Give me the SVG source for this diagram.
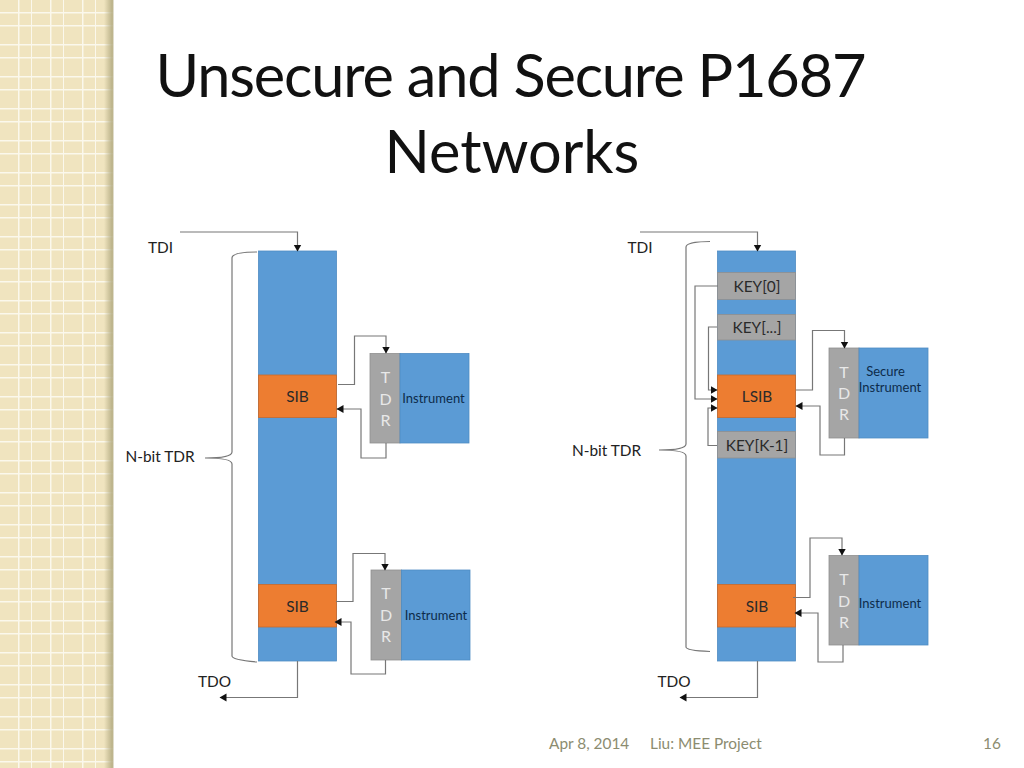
<svg xmlns="http://www.w3.org/2000/svg" width="1024" height="768" viewBox="0 0 1024 768">
<style>
text{font-family:Lato,"Liberation Sans",sans-serif}
.t{font-size:59.500px;fill:#111;text-anchor:middle}
.l{font-size:15.400px;fill:#222}
.c{font-size:15.400px;fill:#2a2a2a;text-anchor:middle}
.w{font-size:16px;fill:#e8e8e8;text-anchor:middle}
.i{font-size:13px;fill:#0d2b4a;text-anchor:middle}
.f{font-size:15.400px;fill:#8c8c70}
.b{fill:#5b9bd5;stroke:#4f8cc3;stroke-width:.8}
.o{fill:#ed7d31;stroke:#c96a2c;stroke-width:.8}
.g{fill:#a5a5a5;stroke:#8f8f8f;stroke-width:.8}
.k{fill:none;stroke:#777;stroke-width:1.2}
.a{marker-end:url(#ah)}
</style>
<defs>
<marker id="ah" markerUnits="userSpaceOnUse" markerWidth="8" markerHeight="9" refX="6.500" refY="4.500" orient="auto"><path d="M0 0.500L7 4.500L0 8.500Z" fill="#111"/></marker>
<pattern id="grid" width="32" height="32" patternUnits="userSpaceOnUse" x="0" y="0">
<rect width="32" height="32" fill="#f0e4bf"/>
<rect x="18" width="1.500" height="32" fill="#fbf8ec"/><rect x="31" width="1.500" height="32" fill="#fbf8ec"/>
<rect y="12" width="32" height="1.500" fill="#fbf8ec"/><rect y="25" width="32" height="1.500" fill="#fbf8ec"/>
</pattern>
<linearGradient id="sh" x1="0" x2="1" y1="0" y2="0"><stop offset="0" stop-color="#b5ad84" stop-opacity="0"/><stop offset=".8" stop-color="#b5ad84" stop-opacity=".85"/><stop offset="1" stop-color="#b5ad84" stop-opacity=".85"/></linearGradient>
</defs>
<rect width="1024" height="768" fill="#fff"/>
<rect x="0" y="0" width="113" height="768" fill="url(#grid)"/>
<rect x="104" y="0" width="9.500" height="768" fill="url(#sh)"/>

<text class="t" x="511" y="97" textLength="711" lengthAdjust="spacing">Unsecure and Secure P1687</text>
<text class="t" x="512" y="173">Networks</text>

<g id="left-column"><rect class="b" x="258.5" y="251" width="78" height="410"/></g>
<g id="sib-1"><rect class="o" x="258.5" y="375" width="78" height="42.500"/><text class="c" x="297.500" y="402">SIB</text></g>
<g id="sib-2"><rect class="o" x="258.5" y="584.500" width="78" height="42.500"/><text class="c" x="297.500" y="612">SIB</text></g>
<g id="tdr-1"><rect class="g" x="370" y="353.500" width="30" height="89.500"/><text class="w" x="385.500" y="383">T</text><text class="w" x="385.500" y="405">D</text><text class="w" x="385.500" y="426">R</text></g>
<g id="instrument-1"><rect class="b" x="400" y="353.500" width="69" height="89.500"/><text class="i" x="433.500" y="403">Instrument</text></g>
<g id="tdr-2"><rect class="g" x="371" y="570" width="30.500" height="90"/><text class="w" x="386" y="599">T</text><text class="w" x="386" y="621">D</text><text class="w" x="386" y="642">R</text></g>
<g id="instrument-2"><rect class="b" x="401.500" y="570" width="68.500" height="90"/><text class="i" x="436" y="620">Instrument</text></g>

<g id="right-column"><rect class="b" x="717.500" y="251" width="78" height="410"/></g>
<g id="key-0"><rect class="g" x="717.500" y="272.500" width="78" height="27"/><text class="c" x="757" y="292">KEY[0]</text></g>
<g id="key-n"><rect class="g" x="717.500" y="314.500" width="78" height="25.500"/><text class="c" x="757" y="333">KEY[...]</text></g>
<g id="lsib"><rect class="o" x="717.500" y="375" width="78" height="42.500"/><text class="c" x="757" y="402">LSIB</text></g>
<g id="key-k"><rect class="g" x="717.500" y="431.500" width="78" height="26.500"/><text class="c" x="757" y="451">KEY[K-1]</text></g>
<g id="sib-3"><rect class="o" x="717.500" y="584.500" width="78" height="42.500"/><text class="c" x="757" y="612">SIB</text></g>
<g id="tdr-3"><rect class="g" x="829" y="348" width="30" height="90"/><text class="w" x="844" y="378">T</text><text class="w" x="844" y="399">D</text><text class="w" x="844" y="420">R</text></g>
<g id="secure-instrument"><rect class="b" x="859" y="348" width="69" height="90"/><text class="i" x="885.500" y="376">Secure</text><text class="i" x="890" y="392">Instrument</text></g>
<g id="tdr-4"><rect class="g" x="829" y="555.500" width="30" height="89.500"/><text class="w" x="844" y="585">T</text><text class="w" x="844" y="607">D</text><text class="w" x="844" y="628">R</text></g>
<g id="instrument-4"><rect class="b" x="859" y="555.500" width="69" height="89.500"/><text class="i" x="890" y="608">Instrument</text></g>

<g id="connectors">
<path class="k a" d="M180 232H297.500V251"/>
<path class="k a" d="M338 384.500H354.500V336H386V353"/>
<path class="k a" d="M386 443V458H361V409H337"/>
<path class="k a" d="M336 601.500H353V553.500H385V570"/>
<path class="k a" d="M385.500 660V674H351V622H335"/>
<path class="k a" d="M297.500 661V697.500H220"/>
<path class="k" d="M257 252C245 252 232 253 232 258V452C232 456 222 458 205 458C222 458 232 460 232 464V656C232 659 245 661 257 662"/>
<path class="k a" d="M640 232H757.500V251"/>
<path class="k" d="M710 241.500C698 241.500 686 243 686 247V444C686 448 676 450 659 450C676 450 686 452 686 456V647C686 650 698 651 710 651.500"/>
<path class="k a" d="M718 286H695V399H717"/>
<path class="k a" d="M717 327H708.500V390H717"/>
<path class="k a" d="M717 445.500H708V408H717"/>
<path class="k a" d="M796 390H812.500V330.500H844.500V348"/>
<path class="k a" d="M844.500 438V455H820V406H796"/>
<path class="k a" d="M793 597.500H810V538H842V555"/>
<path class="k a" d="M843 645V662H818V613H795"/>
<path class="k a" d="M757.500 661V697.500H680"/>
</g>

<text class="l" x="148" y="252.500">TDI</text>
<text class="l" x="125.500" y="462">N-bit TDR</text>
<text class="l" x="198" y="687">TDO</text>
<text class="l" x="627.500" y="253">TDI</text>
<text class="l" x="572" y="456">N-bit TDR</text>
<text class="l" x="657.500" y="687">TDO</text>

<text class="f" x="549" y="749">Apr 8, 2014</text>
<text class="f" x="650" y="749">Liu: MEE Project</text>
<text class="f" x="983" y="749">16</text>
</svg>
